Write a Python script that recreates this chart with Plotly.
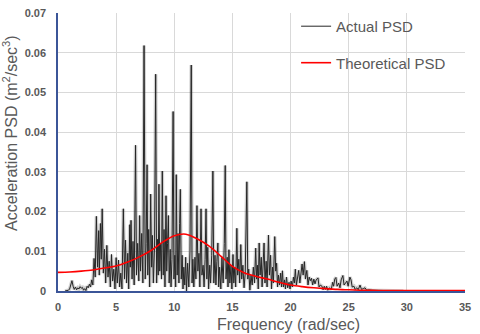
import plotly.graph_objects as go

# Actual PSD
freq_actual = [0.6, 0.9, 1.0, 1.1, 1.2, 1.3, 1.4, 1.5, 1.6, 1.7, 1.8, 1.9, 2.0, 2.1, 2.2, 2.3, 2.4, 2.5, 2.6, 2.7, 2.8, 2.9, 3.0, 3.1, 3.2,
               3.3, 3.4, 3.5, 3.55, 3.65, 3.72, 3.8, 3.9, 4.0, 4.1, 4.2, 4.3, 4.4, 4.5, 4.6, 4.7, 4.8, 4.9, 5.0, 5.1, 5.2, 5.3, 5.4, 5.5,
               5.62, 5.72, 5.8, 5.9, 6.0, 6.08, 6.17, 6.22, 6.28, 6.37, 6.45, 6.55, 6.67, 6.75, 6.85, 6.95, 7.02, 7.1, 7.2, 7.3, 7.4, 7.44, 7.5,
               7.58, 7.66, 7.72, 7.8, 7.88, 7.97, 8.05, 8.12, 8.2, 8.3, 8.4, 8.48, 8.56, 8.62, 8.68, 8.75, 8.82, 8.9, 8.97, 9.05, 9.12, 9.2,
               9.29, 9.35, 9.42, 9.49, 9.56, 9.65, 9.72, 9.8, 9.9, 9.97, 10.05, 10.12, 10.17, 10.25, 10.32, 10.4, 10.46, 10.52, 10.6, 10.68,
               10.75, 10.82, 10.9, 10.98, 11.05, 11.15, 11.25, 11.35, 11.46, 11.53, 11.6, 11.68, 11.78, 11.86, 11.95, 12.03, 12.12, 12.2,
               12.3, 12.38, 12.48, 12.56, 12.65, 12.73, 12.8, 12.88, 12.95, 13.05, 13.12, 13.22, 13.32, 13.4, 13.5, 13.58, 13.66, 13.75,
               13.82, 13.9, 14.0, 14.1, 14.2, 14.3, 14.38, 14.45, 14.55, 14.62, 14.7, 14.78, 14.88, 14.95, 15.05, 15.12, 15.2, 15.28, 15.38,
               15.45, 15.55, 15.62, 15.72, 15.8, 15.9, 16.0, 16.1, 16.24, 16.32, 16.4, 16.5, 16.6, 16.7, 16.8, 16.9, 17.0, 17.08, 17.15,
               17.22, 17.3, 17.38, 17.48, 17.55, 17.65, 17.72, 17.8, 17.9, 17.98, 18.1, 18.18, 18.28, 18.36, 18.45, 18.52, 18.64, 18.72,
               18.8, 18.88, 18.96, 19.05, 19.15, 19.22, 19.3, 19.38, 19.48, 19.56, 19.65, 19.75, 19.87, 19.95, 20.05, 20.15, 20.25, 20.33,
               20.41, 20.5, 20.6, 20.7, 20.8, 20.9, 20.99, 21.08, 21.19, 21.28, 21.4, 21.5, 21.6, 21.7, 21.8, 21.9, 22.0, 22.1, 22.2, 22.36,
               22.45, 22.55, 22.7, 22.8, 22.9, 23.0, 23.1, 23.2, 23.35, 23.5, 23.62, 23.7, 23.8, 23.9, 24.0, 24.14, 24.25, 24.35, 24.5, 24.6,
               24.7, 24.85, 24.95, 25.1, 25.2, 25.3, 25.45, 25.55, 25.7, 25.82, 25.97, 26.1, 26.25, 26.4, 26.55, 26.7, 27.0, 28.0, 29.7]
psd_actual = [0.0, 0.0002, 0.0005, 0.0015, 0.0026, 0.0012, 0.0004, 0.001, 0.0003, 0.0008, 0.0005, 0.0011, 0.0007, 0.0009, 0.0002, 0.0006, 0.0001, 0.0012, 0.0008, 0.0017, 0.001, 0.0028, 0.0015, 0.0082, 0.0035,
              0.0188, 0.006, 0.0152, 0.004, 0.017, 0.008, 0.0207, 0.0045, 0.0105, 0.002, 0.0115, 0.0035, 0.0075, 0.001, 0.0092, 0.0025, 0.0055, 0.0005, 0.0084, 0.002, 0.0078, 0.001, 0.0045, 0.0005,
              0.0207, 0.003, 0.0128, 0.002, 0.0095, 0.0005, 0.0167, 0.006, 0.0178, 0.003, 0.0125, 0.0015, 0.0367, 0.004, 0.012, 0.0025, 0.019, 0.005, 0.0145, 0.002, 0.0618, 0.0429, 0.003,
              0.012, 0.0318, 0.004, 0.0155, 0.001, 0.0244, 0.006, 0.014, 0.002, 0.011, 0.0546, 0.002, 0.013, 0.004, 0.0269, 0.005, 0.012, 0.003, 0.0302, 0.004, 0.0155, 0.001,
              0.024, 0.005, 0.012, 0.019, 0.002, 0.0105, 0.001, 0.008, 0.0452, 0.003, 0.009, 0.001, 0.0293, 0.004, 0.0145, 0.002, 0.017, 0.0256, 0.003, 0.009,
              0.0005, 0.006, 0.0015, 0.0085, 0.0, 0.007, 0.001, 0.01, 0.0569, 0.002, 0.008, 0.001, 0.0085, 0.003, 0.0215, 0.005, 0.0095, 0.001,
              0.0207, 0.004, 0.0065, 0.001, 0.008, 0.0207, 0.003, 0.011, 0.0005, 0.0065, 0.002, 0.009, 0.0302, 0.002, 0.009, 0.0015, 0.0075, 0.0121,
              0.001, 0.006, 0.0005, 0.0085, 0.002, 0.012, 0.0316, 0.003, 0.0085, 0.001, 0.0104, 0.002, 0.0065, 0.0005, 0.0092, 0.002, 0.006, 0.001, 0.0158,
              0.004, 0.008, 0.002, 0.0117, 0.003, 0.0065, 0.0008, 0.0045, 0.0275, 0.003, 0.0055, 0.0002, 0.004, 0.0015, 0.006, 0.002, 0.0108, 0.003, 0.0065,
              0.0005, 0.0121, 0.004, 0.0085, 0.001, 0.007, 0.0121, 0.002, 0.0075, 0.001, 0.0141, 0.004, 0.009, 0.0005, 0.006, 0.002, 0.0137, 0.005,
              0.007, 0.001, 0.004, 0.0015, 0.0045, 0.001, 0.0051, 0.001, 0.0028, 0.0005, 0.0035, 0.0008, 0.0022, 0.0005, 0.0025, 0.001, 0.0035, 0.002,
              0.0055, 0.0015, 0.004, 0.0052, 0.002, 0.0045, 0.0068, 0.004, 0.0074, 0.003, 0.0052, 0.0015, 0.0035, 0.0026, 0.0032, 0.0015, 0.003, 0.0018, 0.0028, 0.0033,
              0.001, 0.0015, 0.0012, 0.0003, 0.0012, 0.0004, 0.0012, 0.0002, 0.0008, 0.0004, 0.0022, 0.0012, 0.003, 0.0034, 0.0012, 0.002, 0.0008, 0.0028, 0.0039, 0.0015,
              0.002, 0.0025, 0.0012, 0.0035, 0.0028, 0.001, 0.0012, 0.0004, 0.0008, 0.0003, 0.0015, 0.0004, 0.0006, 0.0008, 0.0002, 0.0003, 0.0002, 0.0001, 0.0]

# Theoretical PSD
freq_theory = [0, 1, 2, 3, 4, 5, 6, 7, 8, 9, 10, 11, 12, 13, 14, 15, 16, 17, 18, 19, 20, 21, 22, 23, 24, 25, 26, 27, 28, 30, 32, 35]
psd_theory = [0.0047, 0.0048, 0.0050, 0.0053, 0.0058, 0.0063, 0.0073, 0.0086, 0.0102, 0.0123, 0.0139, 0.0143, 0.0131, 0.0113, 0.0088,
              0.0062, 0.0046, 0.0037, 0.0030, 0.0022, 0.0015, 0.0011, 0.0008, 0.0006, 0.0004, 0.0003, 0.0002, 0.00015, 0.0001, 0.0001, 0.0001, 0.0001]

x_ticks = [0, 5, 10, 15, 20, 25, 30, 35]
y_ticks = [0, 0.01, 0.02, 0.03, 0.04, 0.05, 0.06, 0.07]
y_tick_text = ["0", "0.01", "0.02", "0.03", "0.04", "0.05", "0.06", "0.07"]

fig = go.Figure()
# soft shadow under the actual PSD line
fig.add_trace(go.Scatter(x=freq_actual, y=psd_actual, mode="lines",
                         line=dict(color="rgba(0,0,0,0.18)", width=3.5),
                         showlegend=False, hoverinfo="skip"))
fig.add_trace(go.Scatter(x=freq_actual, y=psd_actual, mode="lines", name="Actual PSD",
                         legendgroup="a",
                         line=dict(color="#262626", width=1)))
fig.add_trace(go.Scatter(x=freq_theory, y=psd_theory, mode="lines", name="Theoretical PSD",
                         legendgroup="b",
                         line=dict(color="#ff0000", width=1.6, shape="spline", smoothing=0.8)))

tick_font = dict(family="Liberation Sans", size=11, color="#595959", weight="bold")
fig.update_xaxes(range=[0, 35], tickvals=x_ticks, showgrid=True, gridcolor="#d9d9d9", gridwidth=1,
                 showline=True, linecolor="#3b5598", linewidth=1.5, zeroline=False,
                 ticks="", tickfont=tick_font, ticklabelstandoff=5)
fig.update_yaxes(range=[0, 0.07], tickvals=y_ticks, ticktext=y_tick_text, showgrid=True,
                 gridcolor="#d9d9d9", gridwidth=1,
                 showline=True, linecolor="#3b5598", linewidth=1.5, zeroline=False,
                 ticks="", tickfont=tick_font, ticklabelstandoff=8)

fig.add_annotation(text="Frequency (rad/sec)", xref="paper", yref="paper",
                   x=(288 - 57.5) / 407.5, y=-(325 - 291) / 284, xanchor="center", yanchor="middle",
                   showarrow=False, font=dict(family="Liberation Sans", size=16, color="#595959"))
fig.add_annotation(text="Acceleration PSD (m<sup>2</sup>/sec<sup>3</sup>)", xref="paper", yref="paper",
                   x=-(57.5 - 10) / 407.5, y=(291 - 130) / 284, xanchor="center", yanchor="middle",
                   textangle=-90, showarrow=False,
                   font=dict(family="Liberation Sans", size=16, color="#595959"))

fig.update_layout(
    width=480, height=334,
    margin=dict(l=57.5, r=15, t=7, b=43),
    paper_bgcolor="white", plot_bgcolor="white",
    legend=dict(x=0.585, y=1.011, xanchor="left", yanchor="top", bgcolor="rgba(0,0,0,0)",
                font=dict(family="Liberation Sans", size=15, color="#595959"),
                tracegroupgap=14, traceorder="grouped"),
    showlegend=True,
)

fig.write_html("out.html", config={"displayModeBar": False},
               post_script="document.body.style.margin='0';")
